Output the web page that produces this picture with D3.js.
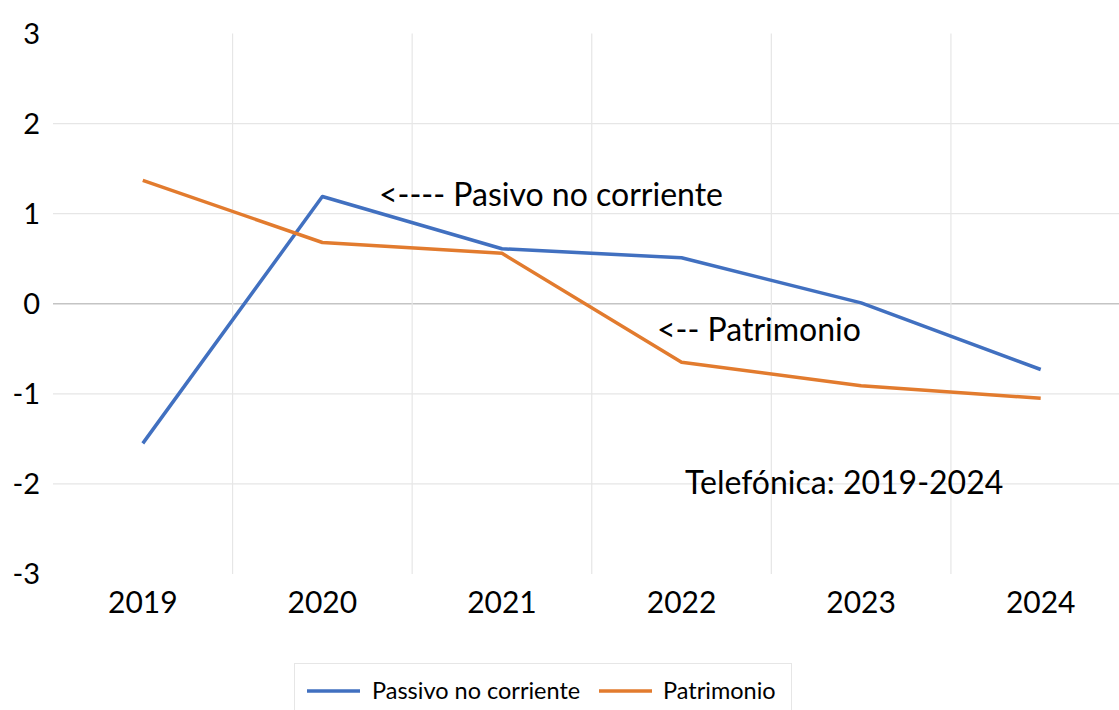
<!DOCTYPE html>
<html><head><meta charset="utf-8">
<script src="https://cdn.jsdelivr.net/npm/d3@7"></script>
<style>body{margin:0;background:#fff}svg{display:block;font-family:Lato,"Open Sans",sans-serif}</style>
</head><body>
<svg id="c" width="1119" height="710"></svg>
<script>
const years = ["2019","2020","2021","2022","2023","2024"];
const pasivo = [-1.55, 1.19, 0.61, 0.51, 0.01, -0.73];
const patrimonio = [1.37, 0.68, 0.56, -0.65, -0.91, -1.05];
const yTicks = [-3,-2,-1,0,1,2,3];
const seriesNames = ["Passivo no corriente","Patrimonio"];
const colors = ["#4170C0","#E27B2E"];

const svg = d3.select("#c");
const x = d3.scaleBand().domain(years).range([53, 1130.5]);
const y = d3.scaleLinear().domain([-3,3]).range([574, 33.5]);
const cx = d => x(d) + x.bandwidth()/2;

// horizontal gridlines
svg.append("g").selectAll("line").data(yTicks.filter(t=>t>-3&&t<3)).join("line")
  .attr("x1",53).attr("x2",1119).attr("y1",d=>y(d)).attr("y2",d=>y(d))
  .attr("stroke",d=>d===0?"#c4c4c4":"#e6e6e6").attr("stroke-width",d=>d===0?1.5:1.2);
// vertical gridlines between categories
svg.append("g").selectAll("line").data(years.slice(1)).join("line")
  .attr("x1",d=>x(d)).attr("x2",d=>x(d)).attr("y1",y(3)).attr("y2",y(-3))
  .attr("stroke","#e6e6e6").attr("stroke-width",1.2);

// y tick labels
svg.append("g").selectAll("text").data(yTicks).join("text")
  .attr("x",40).attr("y",d=>y(d)).attr("dy","0.35em").attr("text-anchor","end")
  .attr("font-size",29).attr("fill","#000").text(d=>d);
// x tick labels
svg.append("g").selectAll("text").data(years).join("text")
  .attr("x",d=>cx(d)).attr("y",613).attr("text-anchor","middle")
  .attr("font-size",30).attr("fill","#000").text(d=>d);

const line = d3.line().x((d,i)=>cx(years[i])).y(d=>y(d));
[pasivo, patrimonio].forEach((s,k)=>{
  svg.append("path").datum(s).attr("d",line).attr("fill","none")
    .attr("stroke",colors[k]).attr("stroke-width",3.5).attr("stroke-linejoin","round");
});

// annotations
const ann = [
  {t:"<---- Pasivo no corriente", x:379, y:206},
  {t:"<-- Patrimonio", x:657, y:341},
  {t:"Telefónica: 2019-2024", x:685, y:494}
];
svg.append("g").selectAll("text").data(ann).join("text")
  .attr("x",d=>d.x).attr("y",d=>d.y).attr("font-size",32).attr("fill","#000").text(d=>d.t);

// legend
const lg = svg.append("g");
lg.append("rect").attr("x",294.5).attr("y",663.5).attr("width",497).attr("height",60)
  .attr("fill","#fff").attr("stroke","#e6e6e6").attr("stroke-width",1);
const legItems = [{x1:307,tx:372},{x1:599,tx:663}];
legItems.forEach((p,k)=>{
  lg.append("line").attr("x1",p.x1).attr("x2",p.x1+53).attr("y1",691).attr("y2",691)
    .attr("stroke",colors[k]).attr("stroke-width",3.5);
  lg.append("text").attr("x",p.tx).attr("y",699).attr("font-size",23.5).attr("fill","#000").text(seriesNames[k]);
});
</script>
</body></html>
